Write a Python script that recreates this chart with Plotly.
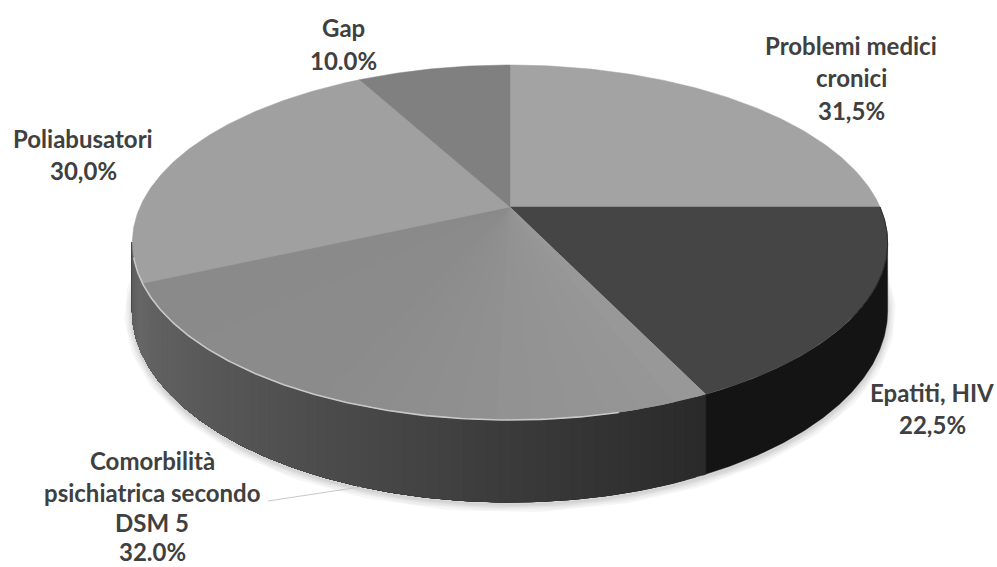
import numpy as np
import plotly.graph_objects as go

# Slice data, clockwise from twelve o'clock
categories = ["Problemi medici cronici", "Epatiti, HIV", "Comorbilità psichiatrica secondo DSM 5",
              "Poliabusatori", "Gap"]
values = [31.5, 22.5, 32.0, 30.0, 10.0]
top_colors = ["#a3a3a3", "#454545", None, "#a0a0a0", "#808080"]

# Label lines and where each block sits
label_lines = [
    (["Problemi medici", "cronici", "31,5%"], 851, [45, 77, 110]),
    (["Epatiti, HIV", "22,5%"], 932, [392, 424]),
    (["Comorbilità", "psichiatrica secondo", "DSM 5", "32.0%"], 152, [460, 492, 522, 551]),
    (["Poliabusatori", "30,0%"], 83, [138, 170]),
    (["Gap", "10.0%"], 343, [27, 60]),
]

# Perspective disc: centre, half-widths, tilt and wall height in pixels
CX, CY = 510.0, 207.0
RX, RY = 370.0, 170.4
TILT = 0.2
WALL = 65.6
# The wall is visible between the two points where the disc outline turns vertical
WALL_START = 90 + np.degrees(np.arcsin(TILT))
WALL_END = 270 - np.degrees(np.arcsin(TILT))


def project(theta_deg, drop=0.0):
    t = np.radians(theta_deg)
    u, v = np.sin(t), np.cos(t)
    w = 1 + TILT * v
    return CX + RX * u / w, CY - RY * v / w + drop / w


def poly(x, y, color, line=0.0):
    return go.Scatter(x=list(x), y=list(y), mode="lines", fill="toself", fillcolor=color,
                      line=dict(width=line, color=color),
                      hoverinfo="skip", showlegend=False)


def gray(level):
    g = int(level)
    return f"rgb({g},{g},{g})"


edges = np.concatenate([[0], np.cumsum(values)]) / np.sum(values) * 360
fig = go.Figure()

# Soft contact shadow under the base
ring = np.linspace(0, 360, 361)
bx, by = project(ring, drop=WALL + 2)
for width in (16, 12, 8, 5, 2):
    fig.add_trace(go.Scatter(x=bx, y=by, mode="lines",
                             line=dict(width=width, color="rgba(0,0,0,0.035)"),
                             hoverinfo="skip", showlegend=False))


def wall_gray(theta):
    # Wall shading: near-black on Epatiti, ramping up along Comorbilità, then Poliabusatori
    if theta < edges[2]:
        return 20
    if theta < edges[3]:
        return np.interp(theta, [edges[2], 180, 200, 225, edges[3]], [42, 60, 74, 90, 102])
    return np.interp(theta, [edges[3], WALL_END], [104, 92])


def wall_section(start, end, color):
    arc = np.linspace(start, end, max(int(end - start) * 2, 4))
    tx, ty = project(arc)
    ux, uy = project(arc[::-1], drop=WALL)
    return poly(np.r_[tx, ux, tx[0]], np.r_[ty, uy, ty[0]], color, 0.4)


# Side wall: each section overlaps everything after it, so the ramp shows no seams
fig.add_trace(wall_section(WALL_START, edges[2] + 0.5, gray(20)))
for a in np.arange(edges[2], WALL_END, 1.5):
    fig.add_trace(wall_section(a, WALL_END, gray(wall_gray(a))))

# Top face wedges; Comorbilità lightens slightly toward Epatiti
for start, end, color in zip(edges[:-1], edges[1:], top_colors):
    if color is not None:
        ax, ay = project(np.linspace(start, end, 120))
        fig.add_trace(poly(np.r_[CX, ax, CX], np.r_[CY, ay, CY], color, 0.5))
    else:
        for a in np.linspace(start, end, 20, endpoint=False):
            ax, ay = project(np.linspace(a, end, 80))
            level = np.interp(a, [start, 200, end], [152, 140, 138])
            fig.add_trace(poly(np.r_[CX, ax, CX], np.r_[CY, ay, CY], gray(level), 0.0))

# Pale bevel along the front rim of Comorbilità and Poliabusatori
rx, ry = project(np.linspace(edges[2] + 12, edges[3] + 8, 160))
fig.add_trace(go.Scatter(x=rx, y=ry, mode="lines", line=dict(width=1.6, color="#c9c9c9"),
                         hoverinfo="skip", showlegend=False))
# Dark edge along the right side of the top face
rx, ry = project(np.linspace(90, 125, 50))
fig.add_trace(go.Scatter(x=rx, y=ry, mode="lines", line=dict(width=1.0, color="#2a2a2a"),
                         hoverinfo="skip", showlegend=False))

# Leader line from the Comorbilità label to the wall
leader_x = [268, 360]
leader_y = [501, 487]
fig.add_trace(go.Scatter(x=leader_x, y=leader_y, mode="lines",
                         line=dict(width=1, color="#c8c8c8"),
                         hoverinfo="skip", showlegend=False))

for lines, x, ys in label_lines:
    for text, y in zip(lines, ys):
        fig.add_annotation(x=x, y=y, text=f"<b>{text}</b>", showarrow=False, xanchor="center",
                           yanchor="middle", font=dict(family="Lato", size=24, color="#404040"))

fig.update_layout(
    width=997, height=567, margin=dict(l=0, r=0, t=0, b=0),
    paper_bgcolor="white", plot_bgcolor="white", showlegend=False,
    xaxis=dict(range=[0, 997], visible=False, fixedrange=True),
    yaxis=dict(range=[567, 0], visible=False, fixedrange=True),
)
fig.write_html("out.html", config={"displayModeBar": False})
